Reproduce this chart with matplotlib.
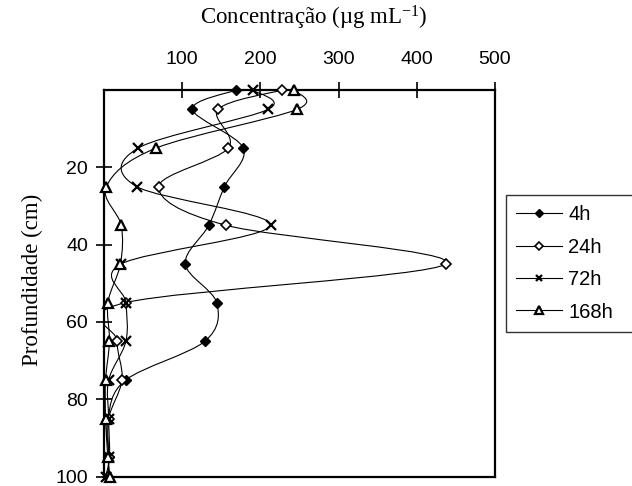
import numpy as np
import matplotlib
matplotlib.use("Agg")
import matplotlib.pyplot as plt
from matplotlib.path import Path
from matplotlib.patches import PathPatch
from matplotlib.lines import Line2D

plt.rcParams['font.family'] = ['Liberation Sans', 'DejaVu Sans']
plt.rcParams['mathtext.fontset'] = 'custom'
plt.rcParams['mathtext.rm'] = 'Liberation Serif'
plt.rcParams['mathtext.it'] = 'Liberation Serif:italic'

# depth (cm) and concentration (ug/mL) per sampling time
depth = [0, 5, 15, 25, 35, 45, 55, 65, 75, 85, 95, 100]
conc_4h = [169, 113, 178, 154, 134, 104, 144, 129, 28, 5, 6, 5]
conc_24h = [228, 146, 159, 70, 156, 437, 28, 17, 23, 6, 6, 5]
conc_72h = [190, 210, 44, 42, 213, 22, 28, 28, 6, 6, 7, 2]
conc_168h = [243, 247, 67, 3, 22, 21, 5, 7, 2, 2, 5, 8]
series_labels = ['4h', '24h', '72h', '168h']

x_ticks = [100, 200, 300, 400, 500]
y_ticks = [20, 40, 60, 80, 100]


def smooth_path(xs, ys):
    # Excel-like smoothed line (Catmull-Rom through the points as cubic Beziers)
    pts = np.column_stack([xs, ys]).astype(float)
    n = len(pts)
    verts = [pts[0]]
    codes = [Path.MOVETO]
    for i in range(n - 1):
        p0 = pts[i - 1] if i > 0 else pts[i]
        p1 = pts[i]
        p2 = pts[i + 1]
        p3 = pts[i + 2] if i + 2 < n else pts[i + 1]
        verts += [p1 + (p2 - p0) / 6, p2 - (p3 - p1) / 6, p2]
        codes += [Path.CURVE4] * 3
    return Path(verts, codes)


fig = plt.figure(figsize=(6.32, 4.86), dpi=100)
ax = fig.add_axes([104 / 632, 1 - 476.5 / 486, 391 / 632, 386.5 / 486])

styles = [
    dict(marker='D', ms=5.2, mfc='black', mec='black', mew=1.0),
    dict(marker='D', ms=5.2, mfc='white', mec='black', mew=1.2),
    dict(marker='x', ms=6.5, mfc='black', mec='black', mew=1.6),
    dict(marker='^', ms=7, mfc='white', mec='black', mew=1.6),
]
all_conc = [conc_4h, conc_24h, conc_72h, conc_168h]

handles = []
for k, (vals, st, lab) in enumerate(zip(all_conc, styles, series_labels)):
    patch = PathPatch(smooth_path(vals, depth), facecolor='none', edgecolor='black',
                      lw=0.8, zorder=2 + 2 * k)
    ax.add_patch(patch)
    ax.plot(vals, depth, ls='none', zorder=3 + 2 * k, clip_on=False, **st)
    handles.append(Line2D([], [], color='black', lw=0.8, label=lab, **st))

ax.set_xlim(0, 500)
ax.set_ylim(100, 0)

ax.xaxis.tick_top()
ax.set_xticks(x_ticks)
ax.set_xticklabels([str(t) for t in x_ticks])
ax.set_yticks(y_ticks)
ax.set_yticklabels([str(t) for t in y_ticks])
ax.tick_params(axis='x', direction='inout', length=11, width=1.2, pad=10,
               labelsize=14, top=True, bottom=False)
ax.tick_params(axis='y', direction='inout', length=11, width=1.2, pad=6,
               labelsize=14, left=True, right=False)

for sp in ax.spines.values():
    sp.set_linewidth(1.6)

ax.set_xlabel('Concentração (µg mL$^{-1}$)', family='Liberation Serif',
              fontsize=16.5, va='center')
ax.xaxis.set_label_position('top')
ax.xaxis.set_label_coords(0.537, 1 + 65 / 386.5)

ax.set_ylabel('Profundidade (cm)', family='Liberation Serif', fontsize=16.5,
              va='center')
ax.yaxis.set_label_coords(-72 / 391, 1 - 190 / 386.5)

leg = ax.legend(handles=handles, loc='upper left',
                bbox_to_anchor=(506 / 632, 1 - 195 / 486, 140 / 632, 0),
                bbox_transform=fig.transFigure, mode='expand', borderaxespad=0,
                fontsize=14.5, frameon=True, fancybox=False, handlelength=2.3,
                handletextpad=0.3, labelspacing=0.67, borderpad=0.5,
                markerscale=0.75)
leg.get_frame().set_edgecolor('black')
leg.get_frame().set_linewidth(1.0)

fig.savefig('out.png', dpi=100, facecolor='white')
